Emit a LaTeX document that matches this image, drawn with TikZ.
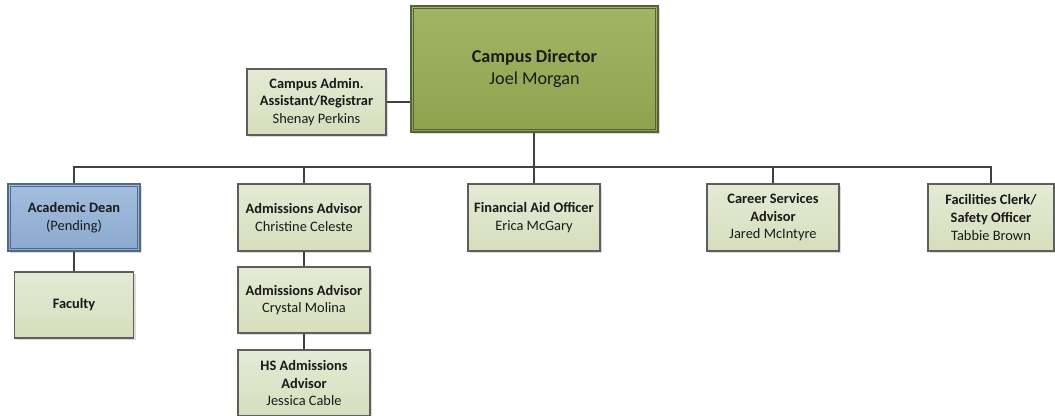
\documentclass[tikz,border=0pt]{standalone}
\usepackage{fontspec}
\setmainfont{Carlito}
\usetikzlibrary{shadows}
\definecolor{lgtop}{HTML}{E4EAD4}
\definecolor{lgbot}{HTML}{D6DEBD}
\definecolor{boxline}{HTML}{5E5E5E}
\definecolor{dirtop}{HTML}{A1B566}
\definecolor{dirbot}{HTML}{8EA24E}
\definecolor{dirline}{HTML}{56633A}
\definecolor{deantop}{HTML}{A2BFDF}
\definecolor{deanbot}{HTML}{8CA9CE}
\definecolor{deanline}{HTML}{53698A}
\definecolor{conn}{HTML}{404040}
\definecolor{txt}{HTML}{1A1A1A}
\begin{document}
\begin{tikzpicture}[x=0.75pt,y=-0.75pt,
  box/.style={draw=boxline, line width=0.8pt, top color=lgtop, bottom color=lgbot,
    align=center, text=txt, inner sep=0pt,
    font=\fontsize{10.8}{13.2}\selectfont,
    drop shadow={shadow xshift=1.5pt, shadow yshift=-1.5pt, fill=black!30, opacity=0.45}},
  dirbox/.style={box, draw=dirline, top color=dirtop, bottom color=dirbot,
    font=\fontsize{13.6}{16.5}\selectfont},
  deanbox/.style={box, draw=deanline, top color=deantop, bottom color=deanbot},
  std/.style={minimum width=99pt, minimum height=50.25pt},
  connector/.style={draw=conn, line width=1.2pt}]
\useasboundingbox (0,0) rectangle (1055,416);

\node[dirbox, minimum width=185.25pt, minimum height=94.5pt] (dir) at (534.5,69)
  {\textbf{Campus Director}\\Joel Morgan};
\node[box, minimum width=104.25pt, minimum height=49.5pt] (adm) at (316.5,102)
  {\textbf{Campus Admin.}\\\textbf{Assistant/Registrar}\\Shenay Perkins};
\node[deanbox, std] (dean) at (74,217.5) {\textbf{Academic Dean}\\(Pending)};
\node[box, minimum width=89.25pt, minimum height=49.5pt] (fac) at (74,305) {\textbf{Faculty}};
\node[box, std] (ad1) at (304,217.5) {\textbf{Admissions Advisor}\\Christine Celeste};
\node[box, minimum width=99pt, minimum height=49.5pt] (ad2) at (304,300) {\textbf{Admissions Advisor}\\Crystal Molina};
\node[box, minimum width=99pt, minimum height=49.5pt] (hs) at (304,383) {\textbf{HS Admissions}\\\textbf{Advisor}\\Jessica Cable};
\node[box, std] (fin) at (534,217.5) {\textbf{Financial Aid Officer}\\Erica McGary};
\node[box, std] (car) at (773,217.5) {\textbf{Career Services}\\\textbf{Advisor}\\Jared McIntyre};
\node[box, minimum width=94.5pt, minimum height=50.25pt] (fcl) at (991,217.5) {\textbf{Facilities Clerk/}\\\textbf{Safety Officer}\\Tabbie Brown};

% inner lines of double borders
\draw[dirline, line width=0.8pt] ([shift={(2.4pt,-2.4pt)}]dir.north west) rectangle ([shift={(-2.4pt,2.4pt)}]dir.south east);
\draw[deanline, line width=0.7pt] ([shift={(2.2pt,-2.2pt)}]dean.north west) rectangle ([shift={(-2.2pt,2.2pt)}]dean.south east);

\coordinate (bus) at (0,167);
\draw[connector] (adm.east) -- (adm.east -| dir.west);
\draw[connector] (dir.south -| fin.north) -- (fin.north);
\draw[connector] (dean.north) -- (dean.north |- bus) -- (fcl.north |- bus) -- (fcl.north);
\draw[connector] (ad1.north) -- (ad1.north |- bus);
\draw[connector] (car.north) -- (car.north |- bus);
\draw[connector] (dean.south) -- (fac.north);
\draw[connector] (ad1.south) -- (ad2.north);
\draw[connector] (ad2.south) -- (hs.north);
\end{tikzpicture}
\end{document}
